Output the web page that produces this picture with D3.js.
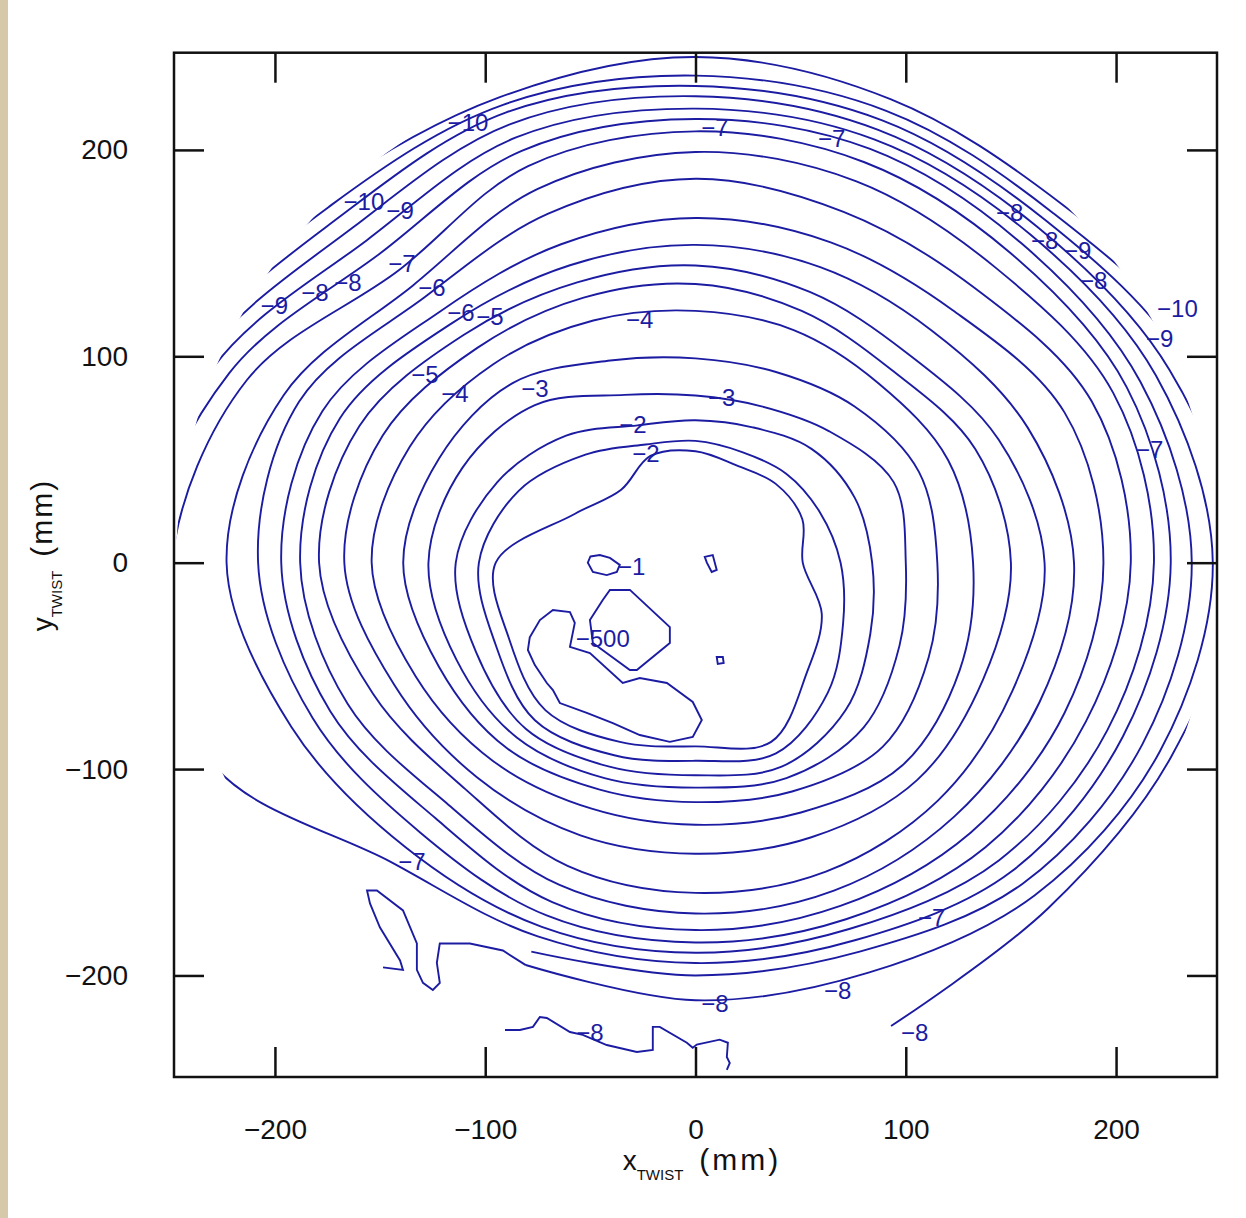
<!DOCTYPE html>
<html>
<head>
<meta charset="utf-8">
<script src="https://cdn.jsdelivr.net/npm/d3@7"></script>
<style>
  body { margin: 0; background: #fff; }
  text { font-family: "Liberation Sans", Arial, sans-serif; }
</style>
</head>
<body>
<svg id="chart"></svg>
<script>
// contour levels, outward from the centre
var levels = [-1.5, -2, -2.5, -3, -3.5, -4, -4.5, -5, -5.5, -6, -6.5, -7, -7.5, -8, -8.5, -9, -9.5, -10, -10.5];

// directions (degrees) at which each ring's radius was read
var angles = [0, 22.5, 45, 67.5, 90, 112.5, 135, 157.5, 180, 202.5, 225, 247.5, 270, 292.5, 315, 337.5];

// ring radius in mm for each level, one value per direction (null = line stops there)
var radii = [
  [51, 55, 54, 51, 54, 56, 50, 62, 95, 96, 101, 94, 89, 94, 75, 65],
  [69, 64, 61, 58, 59, 62, 74, 91, 103, 103, 108, 101, 96, 100, 89, 76],
  [84, 82, 78, 71, 69, 72, 87, 102, 114, 113, 114, 107, 103, 107, 101, 90],
  [100, 102, 90, 82, 81, 88, 108, 120, 127, 123, 120, 113, 109, 113, 113, 105],
  [115, 115, 107, 100, 99, 106, 123, 132, 139, 132, 127, 119, 116, 120, 126, 120],
  [132, 130, 123, 122, 122, 127, 136, 147, 154, 144, 136, 129, 127, 131, 139, 136],
  [150, 144, 132, 132, 135, 139, 147, 161, 167, 155, 147, 143, 141, 144, 149, 148],
  [166, 156, 143, 142, 144, 147, 156, 173, 179, 166, 155, 159, 160, 162, 163, 163],
  [180, 171, 159, 155, 154, 156, 164, 183, 188, 179, 166, 169, 170, 172, 174, 177],
  [194, 190, 173, 168, 167, 167, 172, 192, 197, 188, 175, 178, 178, 180, 185, 190],
  [207, 204, 188, 184, 186, 183, 182, 204, 208, 197, 185, 185, 184, 187, 195, 201],
  [218, 215, 202, 200, 199, 196, 190, 212, 223, 208, 195, 191, 189, 192, 204, 212],
  [226, 222, 212, 210, 209, 208, 200, 231, 249, 250, 205, 196, 194, 198, 212, 220],
  [236, 229, 219, 217, 215, 216, 212, 240, 262, 262, null, 204, 200, 204, 220, 230],
  [246, 237, 225, 222, 220, 223, 221, 248, 269, 269, null, 211, 212, 215, 228, 239],
  [257, 244, 230, 227, 226, 230, 230, 255, 276, 276, null, null, null, 243, 237, 245],
  [264, 252, 235, 232, 231, 236, 238, 262, 284, 284, 279, 272, 269, 260, 257, 260],
  [272, 260, 240, 237, 236, 240, 245, 269, 288, 288, 288, 281, 279, 269, 267, 267],
  [279, 269, 246, 243, 245, 244, 252, 279, 293, 293, 293, 288, 288, 279, 276, 274]
];

// radius of the measured area (mm)
var edgeRadius = 247;

// small closed contours in the middle
var closedPieces = [
  [[-50, 3], [-45.5, 3.7], [-40.7, 2.3], [-36, -1.1], [-37.4, -4.5], [-42.2, -6], [-48.8, -4.5], [-51.2, 0]],
  [[4.4, 2.8], [8.2, 3.7], [10.1, -3.5], [7.7, -4.5], [5.4, 0]],
  [[10.1, -45.7], [13, -45.7], [13.4, -48.6], [10.6, -49.1]],
  [[-40.7, -13.2], [-31.2, -13.2], [-12.2, -31.2], [-12.2, -38.9], [-27.9, -52], [-31.2, -52], [-48.8, -38.9], [-50.2, -27.8], [-44.1, -18.1]],
  [[-78.8, -36.1], [-74, -27.8], [-67.8, -22.9], [-59.7, -23.9], [-57.4, -29.2], [-59.7, -40.8], [-50.2, -43.8], [-34.6, -58.3],
   [-26.5, -55.9], [-13.6, -58.3], [-1.3, -67.5], [3, -76.2], [-1.3, -84.4], [-12.2, -86.8], [-26.5, -83.5], [-39.3, -77.7],
   [-51.7, -72.8], [-64.5, -68], [-67.8, -61.7], [-70.7, -58.3], [-76.4, -49.6], [-79.7, -42.3]]
];

// open pieces near the bottom edge
var openPieces = [
  [[-148.6, -196.1], [-139.1, -197.3], [-140.5, -192.7], [-150.1, -176.7], [-154.8, -165.1], [-156.2, -158.8], [-151.5, -158.8],
   [-139.1, -168.5], [-132.5, -184.5], [-132.5, -197.3], [-129.6, -203.6], [-124.9, -207], [-121.6, -203.6], [-123, -193.9],
   [-121.6, -184.5], [-107.3, -184.5], [-91.6, -187.9], [-80.7, -195]],
  [[-90.6, -226.4], [-83.5, -226.4], [-77.3, -224.9], [-74, -220.1], [-70.7, -220.6], [-59.7, -227.4], [-53.6, -228.8],
   [-42.2, -233.7], [-27.9, -237.1], [-20.3, -236.1], [-20.3, -224.9], [-17, -224.9], [-4.1, -232.6], [-1.3, -235],
   [0.6, -233.5], [11.5, -231.1], [15.4, -232.6], [14.9, -239.5], [16.3, -242.4], [14.9, -245.7]]
];

// contour labels: x, y (mm), text
var labelX = [-108.2, -157.7, -140.5, -200.3, -181, -165.3, -139.6, -125.3, -111.5, -97.8, -128.7, -114.4, -76.4, -26.5,
  9.2, 64.8, 12.5, -29.8, -23.6, -30.3, -44.1, 149.4, 166, 181.7, 189.3, 229.2, 220.7, 216, -134.8, 112.3, 9.2, 67.6, -50.2, 104.2];
var labelY = [213.5, 175.2, 170.8, 124.8, 131.1, 135.9, 145.2, 133.4, 121.4, 119.5, 91.4, 82.1, 84.6, 118.1,
  211.1, 205.8, 80.3, 67.2, 52.8, -1.6, -36.5, 169.8, 156.3, 151.5, 137, 123.4, 108.9, 55.1, -144.5, -171.7, -213.3, -207, -227.4, -227.4];
var labelText = ["−10", "−10", "−9", "−9", "−8", "−8", "−7", "−6", "−6", "−5", "−5", "−4", "−3", "−4",
  "−7", "−7", "−3", "−2", "−2", "−1", "−500", "−8", "−8", "−9", "−8", "−10", "−9", "−7", "−7", "−7", "−8", "−8", "−8", "−8"];

var xTicks = [-200, -100, 0, 100, 200];
var yTicks = [-200, -100, 0, 100, 200];

var svgWidth = 1246, svgHeight = 1218;
var lineColor = "#1c1ca2";

var svg = d3.select("#chart")
  .attr("width", svgWidth)
  .attr("height", svgHeight);

svg.append("rect").attr("width", svgWidth).attr("height", svgHeight).attr("fill", "#fff");
svg.append("rect").attr("width", 8).attr("height", svgHeight).attr("fill", "#d6c9aa");

var x = d3.scaleLinear().domain([-248, 248]).range([174, 1217]);
var y = d3.scaleLinear().domain([-249.2, 247.1]).range([1077, 52.7]);

var defs = svg.append("defs");
defs.append("clipPath").attr("id", "frame")
  .append("rect")
  .attr("x", x(-248)).attr("y", y(247.1))
  .attr("width", x(248) - x(-248)).attr("height", y(-249.2) - y(247.1));
defs.append("clipPath").attr("id", "edge")
  .append("ellipse")
  .attr("cx", x(0)).attr("cy", y(0))
  .attr("rx", x(edgeRadius) - x(0)).attr("ry", y(0) - y(edgeRadius));

var plot = svg.append("g").attr("clip-path", "url(#frame)");
var inner = plot.append("g").attr("clip-path", "url(#edge)");

var closedRing = d3.line()
  .x(function(d) { return x(d[0]); })
  .y(function(d) { return y(d[1]); })
  .curve(d3.curveCatmullRomClosed.alpha(0.5));

var openRing = d3.line()
  .x(function(d) { return x(d[0]); })
  .y(function(d) { return y(d[1]); })
  .curve(d3.curveCatmullRom.alpha(0.5));

var closedLine = d3.line()
  .x(function(d) { return x(d[0]); })
  .y(function(d) { return y(d[1]); })
  .curve(d3.curveLinearClosed);

var openLine = d3.line()
  .x(function(d) { return x(d[0]); })
  .y(function(d) { return y(d[1]); });

// turn one ring's polar readings into path strings, split where a reading is missing
function ringPaths(r) {
  var pts = angles.map(function(a, j) {
    if (r[j] == null) return null;
    var t = a * Math.PI / 180;
    return [r[j] * Math.cos(t), r[j] * Math.sin(t)];
  });
  var start = pts.indexOf(null);
  if (start < 0) return [closedRing(pts)];
  var runs = [], cur = [];
  for (var k = 1; k <= pts.length; k++) {
    var p = pts[(start + k) % pts.length];
    if (p) cur.push(p);
    else { if (cur.length > 1) runs.push(cur); cur = []; }
  }
  if (cur.length > 1) runs.push(cur);
  return runs.map(function(run) { return openRing(run); });
}

var ringData = [];
levels.forEach(function(lv, i) {
  ringPaths(radii[i]).forEach(function(d) { ringData.push(d); });
});

inner.selectAll("path.ring")
  .data(ringData)
  .enter()
  .append("path")
  .attr("class", "ring")
  .attr("d", function(d) { return d; })
  .attr("fill", "none")
  .attr("stroke", lineColor)
  .attr("stroke-width", 1.9);

inner.selectAll("path.piece")
  .data(closedPieces)
  .enter()
  .append("path")
  .attr("class", "piece")
  .attr("d", closedLine)
  .attr("fill", "none")
  .attr("stroke", lineColor)
  .attr("stroke-width", 1.9);

inner.selectAll("path.open")
  .data(openPieces)
  .enter()
  .append("path")
  .attr("class", "open")
  .attr("d", openLine)
  .attr("fill", "none")
  .attr("stroke", lineColor)
  .attr("stroke-width", 1.9);

plot.selectAll("text.lbl")
  .data(labelText)
  .enter()
  .append("text")
  .attr("class", "lbl")
  .attr("x", function(d, i) { return x(labelX[i]); })
  .attr("y", function(d, i) { return y(labelY[i]); })
  .attr("text-anchor", "middle")
  .attr("dy", "0.36em")
  .attr("font-size", 24)
  .attr("fill", lineColor)
  .text(function(d) { return d; });

// axes, ticks pointing inwards on all four sides
var tickLen = 30;
var axB = svg.append("g").attr("transform", "translate(0," + y(-249.2) + ")")
  .call(d3.axisBottom(x).tickValues(xTicks).tickSize(-tickLen).tickSizeOuter(0).tickPadding(42));
var axT = svg.append("g").attr("transform", "translate(0," + y(247.1) + ")")
  .call(d3.axisTop(x).tickValues(xTicks).tickSize(-tickLen).tickSizeOuter(0).tickFormat(""));
var axL = svg.append("g").attr("transform", "translate(" + x(-248) + ",0)")
  .call(d3.axisLeft(y).tickValues(yTicks).tickSize(-tickLen).tickSizeOuter(0).tickPadding(46));
var axR = svg.append("g").attr("transform", "translate(" + x(248) + ",0)")
  .call(d3.axisRight(y).tickValues(yTicks).tickSize(-tickLen).tickSizeOuter(0).tickFormat(""));

[axB, axT, axL, axR].forEach(function(a) {
  a.select(".domain").remove();
  a.selectAll(".tick line").attr("stroke", "#111").attr("stroke-width", 2.5);
  a.selectAll(".tick text").attr("font-size", 28).attr("fill", "#111")
    .attr("font-family", "Liberation Sans, Arial, sans-serif");
});

svg.append("rect")
  .attr("x", x(-248)).attr("y", y(247.1))
  .attr("width", x(248) - x(-248)).attr("height", y(-249.2) - y(247.1))
  .attr("fill", "none")
  .attr("stroke", "#111")
  .attr("stroke-width", 2.5);

// axis titles
var xt = svg.append("text")
  .attr("x", 702).attr("y", 1170)
  .attr("text-anchor", "middle")
  .attr("font-size", 28).attr("fill", "#111");
xt.append("tspan").text("x");
xt.append("tspan").attr("font-size", 15).attr("dy", 10).text("TWIST");
xt.append("tspan").attr("dy", -10).attr("dx", 16).attr("font-size", 30).attr("letter-spacing", 3).text("(mm)");

var yt = svg.append("text")
  .attr("transform", "translate(52,555) rotate(-90)")
  .attr("text-anchor", "middle")
  .attr("font-size", 28).attr("fill", "#111");
yt.append("tspan").text("y");
yt.append("tspan").attr("font-size", 15).attr("dy", 10).text("TWIST");
yt.append("tspan").attr("dy", -10).attr("dx", 14).attr("font-size", 30).attr("letter-spacing", 2).text("(mm)");
</script>
</body>
</html>
